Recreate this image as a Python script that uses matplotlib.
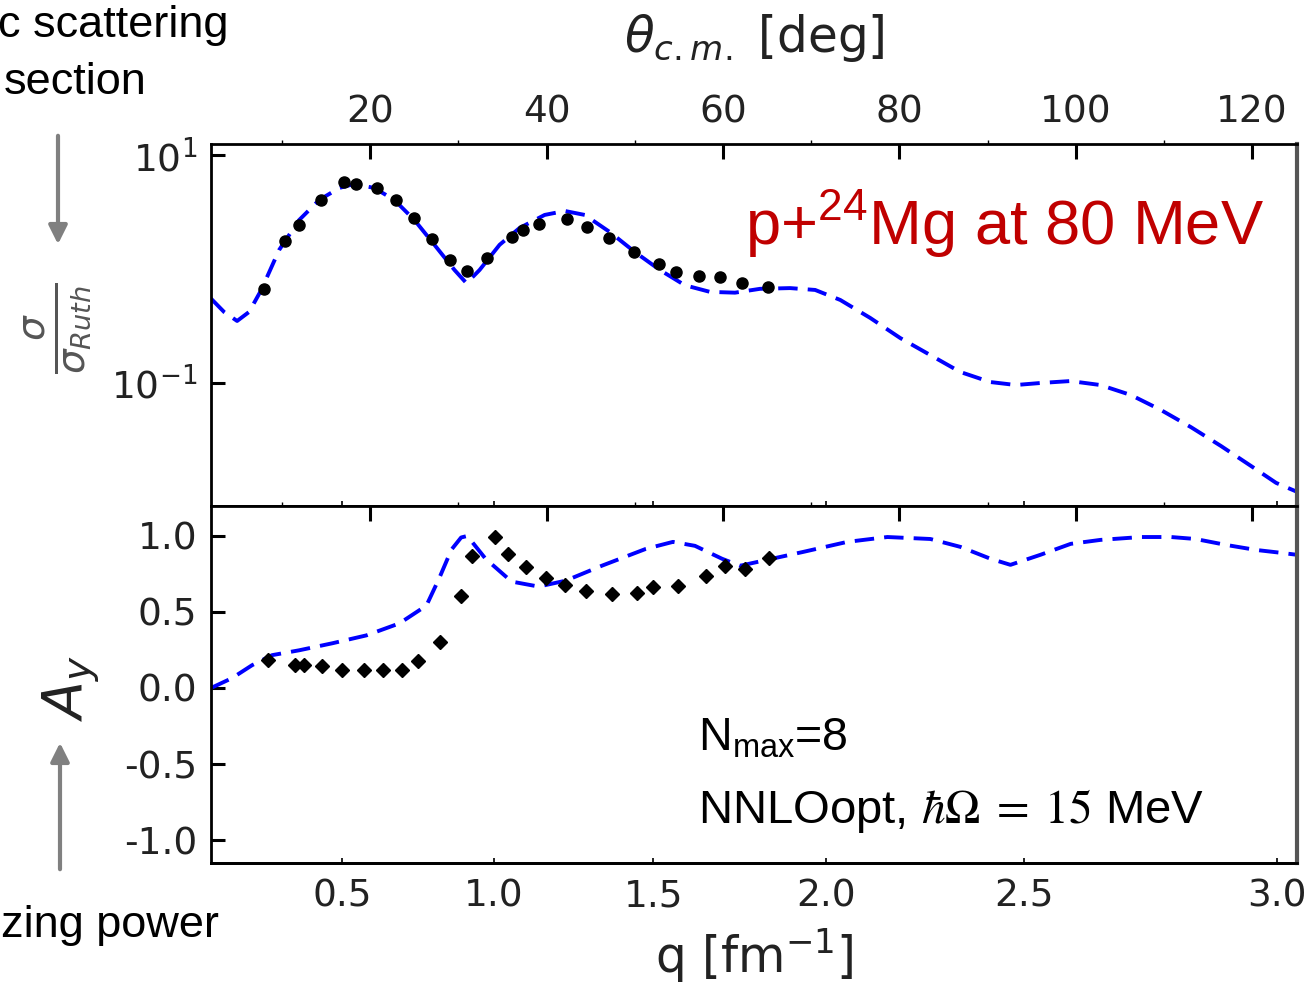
import numpy as np
import matplotlib.pyplot as plt
from matplotlib.ticker import NullLocator

plt.rcParams['axes.unicode_minus'] = False
plt.rcParams['mathtext.rm'] = 'Liberation Sans'
plt.rcParams['mathtext.it'] = 'Liberation Sans:italic'
plt.rcParams['mathtext.bf'] = 'Liberation Sans:bold'
plt.rcParams['mathtext.sf'] = 'Liberation Sans'

# --- cross section sigma/sigma_Ruth vs theta_cm [deg] ---
xs_theta = [7.95, 10.34, 11.93, 14.43, 17.05, 18.41, 20.80, 22.95, 25.0, 27.05, 28.98, 30.91, 33.18,
            36.02, 37.27, 39.09, 42.27, 44.55, 47.05, 49.89, 52.73, 54.66, 57.27, 59.66, 62.16, 65.11]
xs_data = [0.668, 1.76, 2.43, 4.03, 5.80, 5.57, 5.14, 4.03, 2.80, 1.83, 1.20, 0.96, 1.25,
           1.91, 2.20, 2.48, 2.75, 2.34, 1.87, 1.41, 1.11, 0.94, 0.87, 0.85, 0.75, 0.70]

xs_th_theta = [1.93, 3.41, 4.89, 6.25, 7.61, 9.66, 11.93, 14.2, 16.48, 18.18, 20.45, 22.73, 25.0,
               27.27, 29.55, 30.91, 32.39, 34.66, 36.93, 39.77, 42.05, 44.32, 47.16, 50.0, 52.84,
               55.68, 58.52, 61.36, 64.2, 67.61, 70.45, 73.3, 76.7, 80.1, 83.5, 86.9, 90.3, 93.2,
               96.0, 99.4, 102.8, 106.25, 109.66, 113.07, 116.48, 119.89, 122.73, 125.1]
xs_theory = [0.55, 0.42, 0.35, 0.42, 0.65, 1.47, 2.69, 4.03, 5.14, 5.57, 5.14, 4.03, 2.69,
             1.63, 0.98, 0.75, 0.98, 1.63, 2.29, 2.98, 3.23, 2.98, 2.11, 1.41, 0.98,
             0.72, 0.63, 0.62, 0.67, 0.68, 0.655, 0.535, 0.372, 0.248, 0.176, 0.125, 0.102, 0.096,
             0.100, 0.104, 0.096, 0.0785, 0.058, 0.041, 0.028, 0.0187, 0.0133, 0.0111]

# --- analyzing power A_y ---
ay_theta = [8.41, 11.48, 12.5, 14.55, 16.82, 19.32, 21.48, 23.64, 25.45, 27.95, 30.23, 31.48, 34.09,
            35.57, 37.61, 39.89, 42.05, 44.43, 47.39, 50.23, 52.05, 54.89, 58.07, 60.23, 62.5, 65.23]
ay_data = [0.183, 0.150, 0.150, 0.144, 0.118, 0.118, 0.118, 0.118, 0.176, 0.301, 0.608, 0.869, 0.993,
           0.882, 0.797, 0.725, 0.680, 0.641, 0.621, 0.627, 0.667, 0.673, 0.739, 0.804, 0.784, 0.856]

ay_th_theta = [1.93, 4.32, 6.59, 8.86, 11.93, 15.68, 19.55, 23.3, 26.36, 27.8, 29.2, 30.3, 31.0,
               33.07, 36.02, 39.09, 42.16, 46.25, 51.25, 54.32, 56.82, 59.89, 61.93, 63.98, 69.09,
               74.09, 78.64, 83.52, 86.93, 90.34, 92.6, 96.0, 99.43, 102.8, 107.4, 110.8, 113.6,
               117.05, 120.45, 123.3, 125.1]
ay_theory = [0.0, 0.065, 0.15, 0.216, 0.248, 0.294, 0.346, 0.425, 0.542, 0.72, 0.91, 0.99, 1.0,
             0.85, 0.70, 0.667, 0.706, 0.804, 0.915, 0.961, 0.935, 0.85, 0.804, 0.83, 0.895,
             0.961, 0.993, 0.98, 0.928, 0.85, 0.81, 0.876, 0.948, 0.974, 0.993, 0.993, 0.98,
             0.941, 0.908, 0.889, 0.876]

theta_ticks = [20, 40, 60, 80, 100, 120]
theta_minor = [10, 30, 50, 70, 90, 110]
q_ticks = [0.5, 1.0, 1.5, 2.0, 2.5, 3.0]
Q_SCALE = 3.416  # q = 2k sin(theta/2)


def theta_to_q(th):
    return Q_SCALE * np.sin(np.radians(np.asarray(th, dtype=float)) / 2)


def q_to_theta(q):
    r = np.clip(np.asarray(q, dtype=float) / Q_SCALE, -1, 1)
    return 2 * np.degrees(np.arcsin(r))


W, H = 1309, 984
fig = plt.figure(figsize=(W / 100, H / 100), dpi=100)


def px(x, y):
    return x / W, 1 - y / H


L, R = 211, 1297
ax1 = fig.add_axes([L / W, 1 - 506 / H, (R - L) / W, (506 - 144) / H])
ax2 = fig.add_axes([L / W, 1 - 863 / H, (R - L) / W, (863 - 506) / H], sharex=ax1)

tick_col = '#222222'
line_kw = dict(color='#0000ff', lw=2.8, ls=(0, (5, 2.6)))

ax1.plot(xs_th_theta, xs_theory, **line_kw)
ax1.plot(xs_theta, xs_data, 'o', color='black', ms=8, mec='black')
ax2.plot(ay_th_theta, ay_theory, **line_kw)
ax2.plot(ay_theta, ay_data, 'D', color='black', ms=7, mec='black')

ax1.set_xlim(1.93, 125.1)
ax1.set_yscale('log')
ax1.set_ylim(10 ** -2.079, 10 ** 1.0965)
ax1.set_yticks([10, 0.1])
ax1.yaxis.set_minor_locator(NullLocator())
ax2.set_ylim(-1.151, 1.197)
ax2.set_yticks([-1.0, -0.5, 0.0, 0.5, 1.0])
ax2.set_yticklabels(['-1.0', '-0.5', '0.0', '0.5', '1.0'])

for ax, top_labels in ((ax1, True), (ax2, False)):
    for s in ax.spines.values():
        s.set_linewidth(2)
    ax.spines['right'].set_color('#555555')
    ax.spines['right'].set_linewidth(3)
    ax.set_xticks(theta_ticks)
    ax.set_xticks(theta_minor, minor=True)
    ax.tick_params(axis='x', which='major', direction='in', length=11, width=2.2,
                   top=True, bottom=False, labeltop=top_labels, labelbottom=False,
                   pad=10, labelsize=27, labelcolor=tick_col)
    ax.tick_params(axis='x', which='minor', direction='out', length=3, width=1,
                   top=True, bottom=False)
    ax.tick_params(axis='y', direction='in', length=10, width=2.2, right=False,
                   pad=10, labelsize=27, labelcolor=tick_col)
    sec = ax.secondary_xaxis('bottom', functions=(theta_to_q, q_to_theta))
    sec.set_xticks(q_ticks)
    sec.tick_params(direction='in', length=3.5, width=1.2, pad=11, labelsize=27,
                    labelcolor=tick_col, labelbottom=not top_labels)
    sec.spines['bottom'].set_linewidth(2)
    if not top_labels:
        sec.set_xlabel(r'q [fm$^{-1}$]', fontsize=35, color=tick_col, labelpad=9)

ax1.xaxis.set_label_position('top')
ax1.set_xlabel(r'$\theta_{c.m.}$ [deg]', fontsize=35, color=tick_col, labelpad=30)

ax1.set_ylabel(r'$\frac{\sigma}{\sigma_{Ruth}}$', fontsize=40, color='#555555')
ax1.yaxis.set_label_coords(-0.108, 0.49)
ax2.set_ylabel(r'$A_y$', fontsize=40, color=tick_col)
ax2.yaxis.set_label_coords(-0.100, 0.49)

# annotations inside the panels
fig.text(*px(745, 245), r'p+$^{24}$Mg at 80 MeV', color='#c00000', fontsize=45.5,
         family='Liberation Sans', math_fontfamily='custom', va='baseline')
fig.text(*px(698, 750), r'N$_{\mathrm{max}}$=8', color='black', fontsize=33.5,
         family='Liberation Sans', math_fontfamily='custom', va='baseline')
fig.text(*px(698, 823), r'NNLOopt, $\hbar\Omega\;=\;15$ MeV', color='black', fontsize=34,
         family='Liberation Sans', math_fontfamily='stix', va='baseline')

# slide text around the chart
fig.text(*px(228, 37), 'c scattering', fontsize=32.5, family='Liberation Sans',
         ha='right', va='baseline')
fig.text(*px(146, 94), 'section', fontsize=32.5, family='Liberation Sans',
         ha='right', va='baseline')
fig.text(*px(219, 937), 'zing power', fontsize=32.5, family='Liberation Sans',
         ha='right', va='baseline')

arrow_kw = dict(arrowstyle='-|>', color='#808080', lw=3, mutation_scale=28)
ax1.annotate('', xy=(58, H - 247), xycoords='figure pixels', xytext=(58, H - 133),
             textcoords='figure pixels', arrowprops=arrow_kw, annotation_clip=False)
ax2.annotate('', xy=(60, H - 740), xycoords='figure pixels', xytext=(60, H - 872),
             textcoords='figure pixels', arrowprops=arrow_kw, annotation_clip=False)

fig.savefig('out.png', dpi=100)
